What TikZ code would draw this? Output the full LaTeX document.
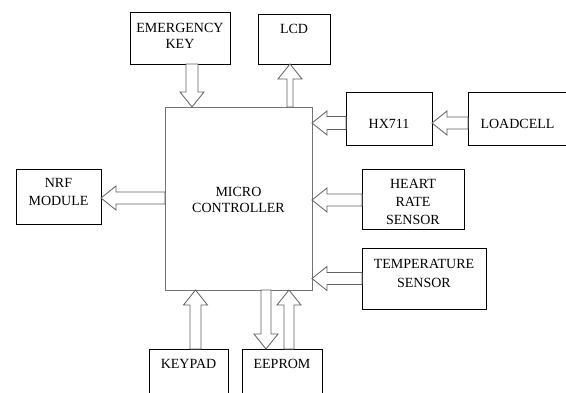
\documentclass[tikz,border=0pt]{standalone}
\usepackage{fontspec}
\setmainfont{Liberation Serif}
\usetikzlibrary{calc}
\tikzset{
  box/.style={draw=black, line width=0.8pt, inner xsep=0pt, inner ysep=0pt, outer sep=0pt,
    align=center, anchor=north west, font=\fontsize{14}{17}\selectfont},
  arw/.style={draw=black!62, line width=0.8pt, line join=miter, fill=white}
}
\def\hw{12}\def\hl{15}
% #1 shaft half-width, #2 start, #3 tip, #4 ux, #5 uy (direction, pixel coords)
\newcommand\barrow[5]{%
  \draw[arw] ($(#2)+({-(#5)*#1},{(#4)*#1})$)
    -- ($(#3)+({-\hl*(#4)-(#5)*#1},{-\hl*(#5)+(#4)*#1})$)
    -- ($(#3)+({-\hl*(#4)-(#5)*\hw},{-\hl*(#5)+(#4)*\hw})$)
    -- (#3)
    -- ($(#3)+({-\hl*(#4)+(#5)*\hw},{-\hl*(#5)-(#4)*\hw})$)
    -- ($(#3)+({-\hl*(#4)+(#5)*#1},{-\hl*(#5)-(#4)*#1})$)
    -- ($(#2)+({(#5)*#1},{-(#4)*#1})$) -- cycle;}
\begin{document}
\begin{tikzpicture}[x=1pt,y=-1pt]
\clip (0,0) rectangle (566,392);
\fill[white] (0,0) rectangle (566,392);

\node[box, minimum width=100, text height=36, text depth=16, font=\fontsize{14}{15.5}\selectfont] (emerg) at (130,12) {EMERGENCY\\KEY};
\node[box, minimum width=72, text height=19, text depth=31] (lcd) at (258,14) {LCD};
\node[box, draw=black!55, minimum width=147, text height=105.5, text depth=77.5, font=\fontsize{14}{16.5}\selectfont] (micro) at (165,107) {MICRO\\CONTROLLER};
\node[box, minimum width=86, text height=36, text depth=17] (hx) at (346,92) {HX711};
\node[box, minimum width=99, text height=36, text depth=17] (load) at (468,92) {LOADCELL};
\node[box, minimum width=102, text height=55, text depth=5, font=\fontsize{14}{18}\selectfont] (heart) at (362,169) {HEART\\RATE\\SENSOR};
\node[box, minimum width=124, text height=39, text depth=22, font=\fontsize{14}{19}\selectfont] (temp) at (362,248) {TEMPERATURE\\SENSOR};
\node[box, minimum width=85, text height=36, text depth=19, font=\fontsize{14}{18}\selectfont] (nrf) at (16,169) {NRF\\MODULE};
\node[box, minimum width=79, text height=19, text depth=60] (keypad) at (149,349) {KEYPAD};
\node[box, minimum width=80, text height=19, text depth=60] (eeprom) at (242,349) {EEPROM};

\coordinate (e1) at ([xshift=12pt]emerg.south);
\coordinate (e2) at (micro.north -| e1);
\coordinate (l2) at ([xshift=-4pt]lcd.south);
\coordinate (l1) at (micro.north -| l2);
\coordinate (h1) at ([yshift=-4.5pt]hx.west);
\coordinate (h2) at (micro.east |- h1);
\coordinate (c1) at ([yshift=-4.5pt]load.west);
\coordinate (c2) at (hx.east |- c1);
\coordinate (r1) at ([yshift=-1pt]heart.west);
\coordinate (r2) at (micro.east |- r1);
\coordinate (t1) at (temp.west);
\coordinate (t2) at (micro.east |- t1);
\coordinate (n2) at ([yshift=-1.5pt]nrf.east);
\coordinate (n1) at (micro.west |- n2);
\coordinate (k1) at ([xshift=7pt]keypad.north);
\coordinate (k2) at (micro.south -| k1);
\coordinate (d2) at ([xshift=-16pt]eeprom.north);
\coordinate (d1) at (micro.south -| d2);
\coordinate (u1) at ([xshift=7pt]eeprom.north);
\coordinate (u2) at (micro.south -| u1);

\barrow{6}{e1}{e2}{0}{1}
\barrow{3}{l1}{l2}{0}{-1}
\barrow{6.5}{h1}{h2}{-1}{0}
\barrow{6}{c1}{c2}{-1}{0}
\barrow{6}{r1}{r2}{-1}{0}
\barrow{6}{t1}{t2}{-1}{0}
\barrow{6}{n1}{n2}{-1}{0}
\barrow{5.5}{k1}{k2}{0}{-1}
\barrow{5}{d1}{d2}{0}{1}
\barrow{5}{u1}{u2}{0}{-1}
\end{tikzpicture}
\end{document}
